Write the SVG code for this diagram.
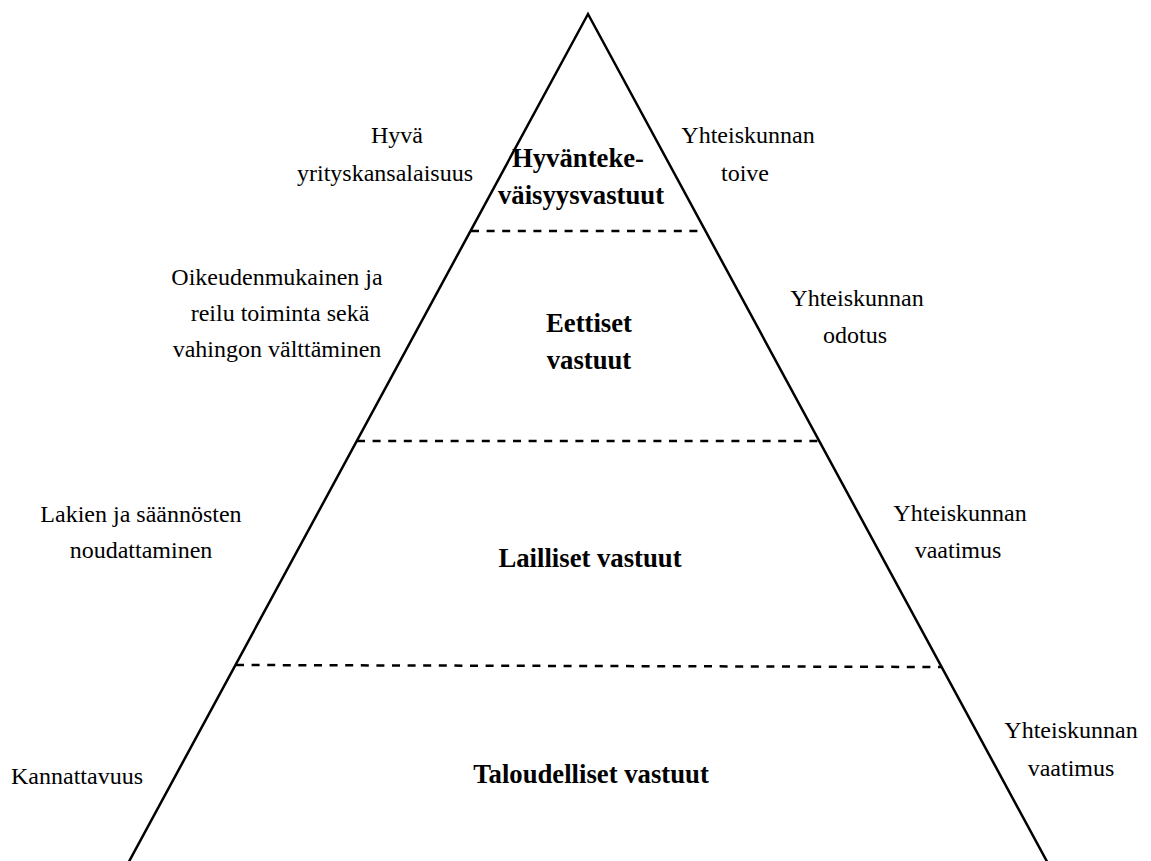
<svg xmlns="http://www.w3.org/2000/svg" width="1151" height="861" viewBox="0 0 1151 861">
<style>
.t{font-family:"Liberation Serif","Times New Roman",serif;font-size:24px;fill:#000;text-anchor:middle}
.b{font-family:"Liberation Serif","Times New Roman",serif;font-size:26.7px;font-weight:bold;fill:#000;text-anchor:middle}
.edge{fill:none;stroke:#000;stroke-width:2.5}
.dash{fill:none;stroke:#000;stroke-width:2.5;stroke-dasharray:8 7.6}
</style>
<rect width="1151" height="861" fill="#fff"/>
<g id="connectors">
<polyline class="edge" points="126.6,866 588,14 1049.4,866"/>
<line class="dash" x1="471" y1="231" x2="705" y2="231"/>
<line class="dash" x1="357" y1="441" x2="819" y2="441"/>
<line class="dash" x1="236" y1="665" x2="941" y2="667"/>
</g>
<g id="level-hyvantekeva">
<text class="b" x="578" y="167">Hyvänteke-</text>
<text class="b" x="581" y="204">väisyysvastuut</text>
</g>
<g id="level-eettiset">
<text class="b" x="589" y="332">Eettiset</text>
<text class="b" x="589" y="369">vastuut</text>
</g>
<g id="level-lailliset">
<text class="b" x="590" y="567">Lailliset vastuut</text>
</g>
<g id="level-taloudelliset">
<text class="b" x="591" y="783">Taloudelliset vastuut</text>
</g>
<g id="left-hyva">
<text class="t" x="397" y="143">Hyvä</text>
<text class="t" x="385" y="181">yrityskansalaisuus</text>
</g>
<g id="left-oikeudenmukainen">
<text class="t" x="277" y="285">Oikeudenmukainen ja</text>
<text class="t" x="280" y="321">reilu toiminta sekä</text>
<text class="t" x="277" y="357">vahingon välttäminen</text>
</g>
<g id="left-lakien">
<text class="t" x="141" y="522">Lakien ja säännösten</text>
<text class="t" x="141" y="558">noudattaminen</text>
</g>
<g id="left-kannattavuus">
<text class="t" x="77" y="784">Kannattavuus</text>
</g>
<g id="right-toive">
<text class="t" x="748" y="143">Yhteiskunnan</text>
<text class="t" x="745" y="181">toive</text>
</g>
<g id="right-odotus">
<text class="t" x="857" y="306">Yhteiskunnan</text>
<text class="t" x="855" y="343">odotus</text>
</g>
<g id="right-vaatimus-1">
<text class="t" x="960" y="521">Yhteiskunnan</text>
<text class="t" x="958" y="558">vaatimus</text>
</g>
<g id="right-vaatimus-2">
<text class="t" x="1071" y="738">Yhteiskunnan</text>
<text class="t" x="1071" y="776">vaatimus</text>
</g>
</svg>
